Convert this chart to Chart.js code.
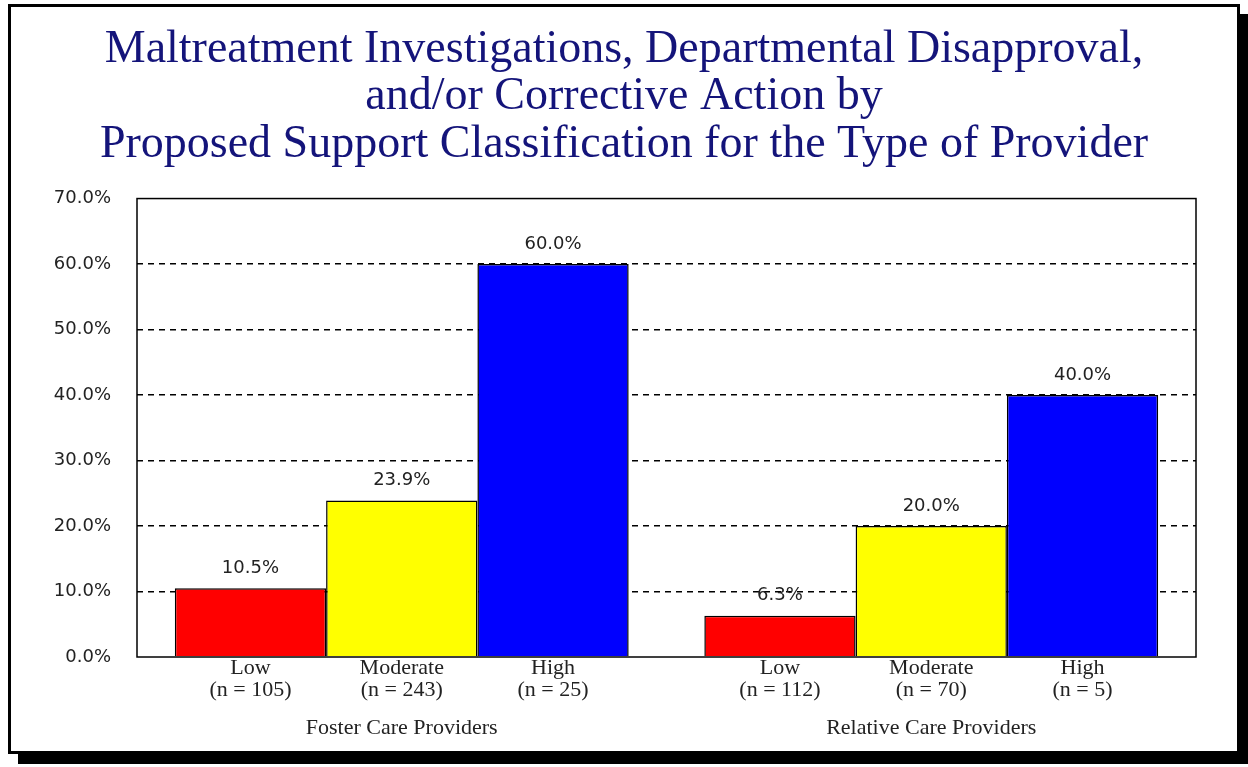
<!DOCTYPE html>
<html>
<head>
<meta charset="utf-8">
<script src="https://cdn.jsdelivr.net/npm/chart.js@4/dist/chart.umd.min.js"></script>
<style>
  html, body { margin: 0; padding: 0; background: #fff; overflow: hidden; }
  #frame {
    position: absolute; left: 8px; top: 4px;
    width: 1226px; height: 744px;
    border: 3px solid #000;
    box-shadow: 10px 10px 0 #000;
    background: #fff;
  }
  #chart { position: absolute; left: 0; top: 0; }
</style>
</head>
<body>
<div id="frame"></div>
<canvas id="chart" width="1248" height="767"></canvas>
<script>
// provider groups and support levels
const providerGroups = ["Foster Care Providers", "Relative Care Providers"];
const supportLevels = ["Low", "Moderate", "High"];

// percentage with an investigation / disapproval / corrective action
const lowValues = [10.5, 6.3];
const moderateValues = [23.9, 20.0];
const highValues = [60.0, 40.0];

// number of providers in each level
const lowCounts = [105, 112];
const moderateCounts = [243, 70];
const highCounts = [25, 5];

const yTicks = [0, 10, 20, 30, 40, 50, 60, 70];

const titleLines = [
  "Maltreatment Investigations, Departmental Disapproval,",
  "and/or Corrective Action by",
  "Proposed Support Classification for the Type of Provider"
];

const countsByLevel = [lowCounts, moderateCounts, highCounts];

// box around the plot area
const plotBox = {
  id: "plotBox",
  afterDatasetsDraw(chart) {
    const a = chart.chartArea;
    const ctx = chart.ctx;
    ctx.save();
    ctx.strokeStyle = "#000";
    ctx.lineWidth = 1.5;
    ctx.strokeRect(a.left, a.top, a.right - a.left, a.bottom - a.top);
    ctx.restore();
  }
};

// value labels above bars and level / n labels under them
const barLabels = {
  id: "barLabels",
  afterDatasetsDraw(chart) {
    const ctx = chart.ctx;
    const bottom = chart.chartArea.bottom;
    ctx.save();
    ctx.textAlign = "center";
    ctx.textBaseline = "middle";
    chart.data.datasets.forEach((ds, i) => {
      const meta = chart.getDatasetMeta(i);
      meta.data.forEach((bar, j) => {
        ctx.fillStyle = "#222";
        ctx.font = "18px 'DejaVu Sans'";
        ctx.fillText(ds.data[j].toFixed(1) + "%", bar.x, bar.y - 20);
        ctx.font = "22px 'Liberation Serif'";
        ctx.fillText(supportLevels[i], bar.x, bottom + 11);
        ctx.fillText("(n = " + countsByLevel[i][j] + ")", bar.x, bottom + 33);
      });
    });
    ctx.restore();
  }
};

const ctx = document.getElementById("chart").getContext("2d");
const chart = new Chart(ctx, {
  type: "bar",
  data: {
    labels: providerGroups,
    datasets: [
      { label: supportLevels[0], data: lowValues, backgroundColor: "#ff0000" },
      { label: supportLevels[1], data: moderateValues, backgroundColor: "#ffff00" },
      { label: supportLevels[2], data: highValues, backgroundColor: "#0000ff" }
    ]
  },
  options: {
    responsive: false,
    animation: false,
    events: [],
    layout: { padding: { left: 0, right: 0, top: 4, bottom: 0 } },
    datasets: {
      bar: {
        borderColor: "#000",
        borderWidth: 1.5,
        categoryPercentage: 3 / 3.5,
        barPercentage: 1
      }
    },
    plugins: {
      legend: { display: false },
      tooltip: { enabled: false },
      title: {
        display: true,
        text: titleLines,
        color: "#14147a",
        font: { family: "'Liberation Serif'", size: 46, weight: "normal", lineHeight: 1.033 },
        padding: { top: 22, bottom: 30 }
      }
    },
    scales: {
      x: {
        grid: { display: false },
        border: { display: false },
        ticks: {
          color: "#222",
          font: { family: "'Liberation Serif'", size: 22 },
          padding: 50
        },
        afterFit(scale) { scale.height = 110; }
      },
      y: {
        min: 0,
        max: 70,
        afterBuildTicks(scale) { scale.ticks = yTicks.map(v => ({ value: v })); },
        grid: {
          drawTicks: false,
          color: c => (c.tick.value === 0 || c.tick.value === 70) ? "rgba(0,0,0,0)" : "#000",
          lineWidth: 1.5
        },
        border: { display: false, dash: [6, 5] },
        ticks: {
          color: "#222",
          padding: 26,
          font: { family: "'DejaVu Sans'", size: 18 },
          callback: v => v.toFixed(1) + "%"
        },
        afterFit(scale) { scale.width = 137; }
      },
      // empty right-hand margin so the title stays centred on the page
      yMargin: {
        position: "right",
        display: true,
        grid: { display: false },
        border: { display: false },
        ticks: { display: false },
        afterFit(scale) { scale.width = 52; }
      }
    }
  },
  plugins: [plotBox, barLabels]
});
</script>
</body>
</html>
